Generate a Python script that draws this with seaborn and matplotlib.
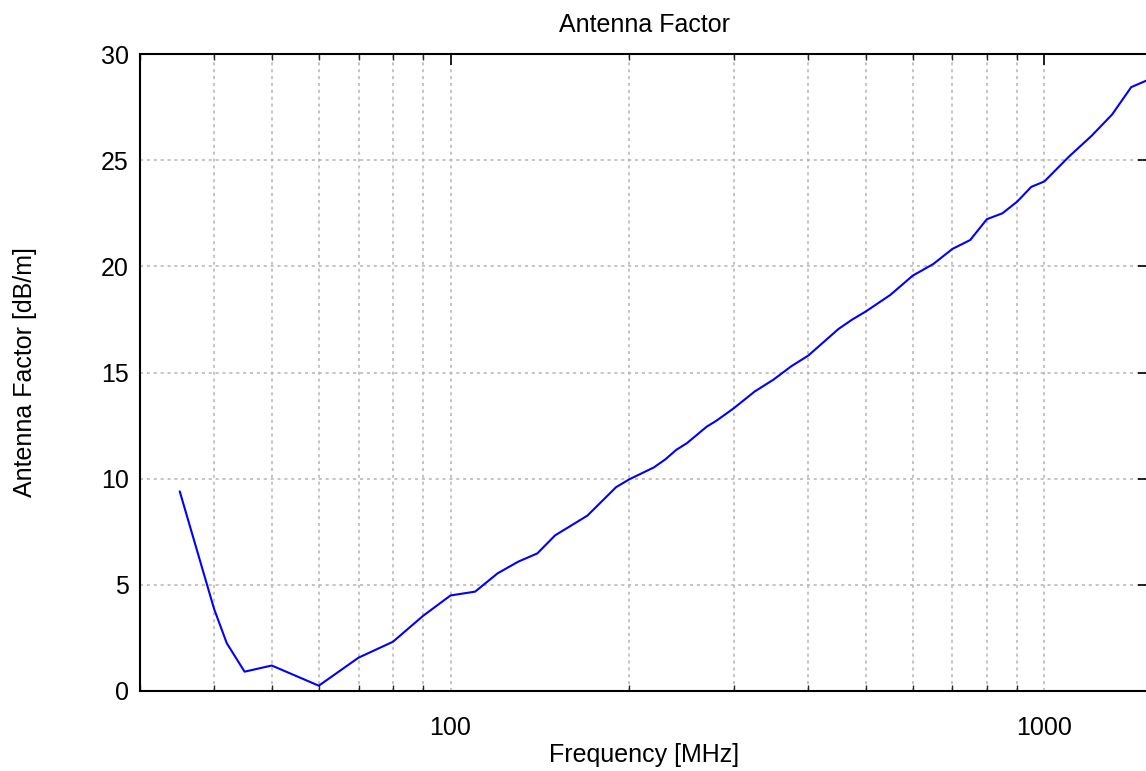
import matplotlib
matplotlib.use("Agg")
import matplotlib.pyplot as plt
import seaborn as sns
import pandas as pd
from matplotlib.ticker import FixedLocator, NullFormatter, LogLocator

# Data
freq_mhz = [35, 40, 42, 45, 50, 60, 70, 80, 90, 100, 110, 120, 130, 140, 150,
            170, 190, 200, 220, 230, 240, 250, 270, 280, 300, 325, 350, 375,
            400, 450, 475, 500, 550, 600, 650, 700, 750, 800, 850, 900, 950,
            1000, 1100, 1200, 1300, 1400, 1500]
antenna_factor = [9.40, 3.85, 2.25, 0.91, 1.20, 0.25, 1.57, 2.32, 3.55, 4.50,
                  4.68, 5.54, 6.09, 6.48, 7.33, 8.26, 9.60, 9.97, 10.53, 10.91,
                  11.36, 11.67, 12.45, 12.72, 13.32, 14.10, 14.67, 15.30, 15.79,
                  17.05, 17.50, 17.87, 18.65, 19.56, 20.11, 20.82, 21.24, 22.22,
                  22.50, 23.05, 23.74, 24.00, 25.17, 26.14, 27.15, 28.44, 28.80]
x_major_ticks = [100, 1000]
x_tick_labels = ["100", "1000"]
y_ticks = [0, 5, 10, 15, 20, 25, 30]

sns.set_theme(style="white")
plt.rcParams['font.family'] = ['Liberation Sans', 'DejaVu Sans']

W, H = 1146, 771
fig = plt.figure(figsize=(W / 100, H / 100), dpi=100)
left, right, top, bottom = 140, 1149, 54, 691
ax = fig.add_axes([left / W, (H - bottom) / H, (right - left) / W, (bottom - top) / H])

df = pd.DataFrame({"Frequency": freq_mhz, "AF": antenna_factor})
sns.lineplot(data=df, x="Frequency", y="AF", color="#0000ff", linewidth=1.5, ax=ax)

ax.set_xscale("log")
ax.set_xlim(30, 1500)
ax.set_ylim(0, 30)

ax.xaxis.set_major_locator(FixedLocator(x_major_ticks))
ax.set_xticklabels(x_tick_labels)
ax.xaxis.set_minor_locator(LogLocator(base=10, subs=range(2, 10)))
ax.xaxis.set_minor_formatter(NullFormatter())
ax.set_yticks(y_ticks)
ax.set_yticklabels([str(v) for v in y_ticks])

fs = 18
ax.tick_params(axis="both", which="major", direction="in", length=8, width=1.2,
               top=True, right=True, labelsize=fs, colors="black")
ax.tick_params(axis="x", which="major", pad=18)
ax.tick_params(axis="x", which="minor", direction="in", length=4, width=1.0,
               top=True, bottom=True)
ax.tick_params(axis="y", which="major", pad=8)

grid_kw = dict(color="#b4b4b4", linestyle=(0, (2, 2.5)), linewidth=1.1)
ax.grid(True, axis="x", which="both", **grid_kw)
ax.grid(True, axis="y", which="major", **grid_kw)

for s in ax.spines.values():
    s.set_color("black")
    s.set_linewidth(1.5)
    s.set_visible(True)

ax.set_xlabel("Frequency [MHz]", fontsize=fs, color="black", labelpad=2)
ax.set_ylabel("Antenna Factor [dB/m]", fontsize=fs, color="black", labelpad=46)
ax.set_title("Antenna Factor", fontsize=fs, color="black", pad=16)

fig.savefig("out.png", dpi=100, facecolor="white")
